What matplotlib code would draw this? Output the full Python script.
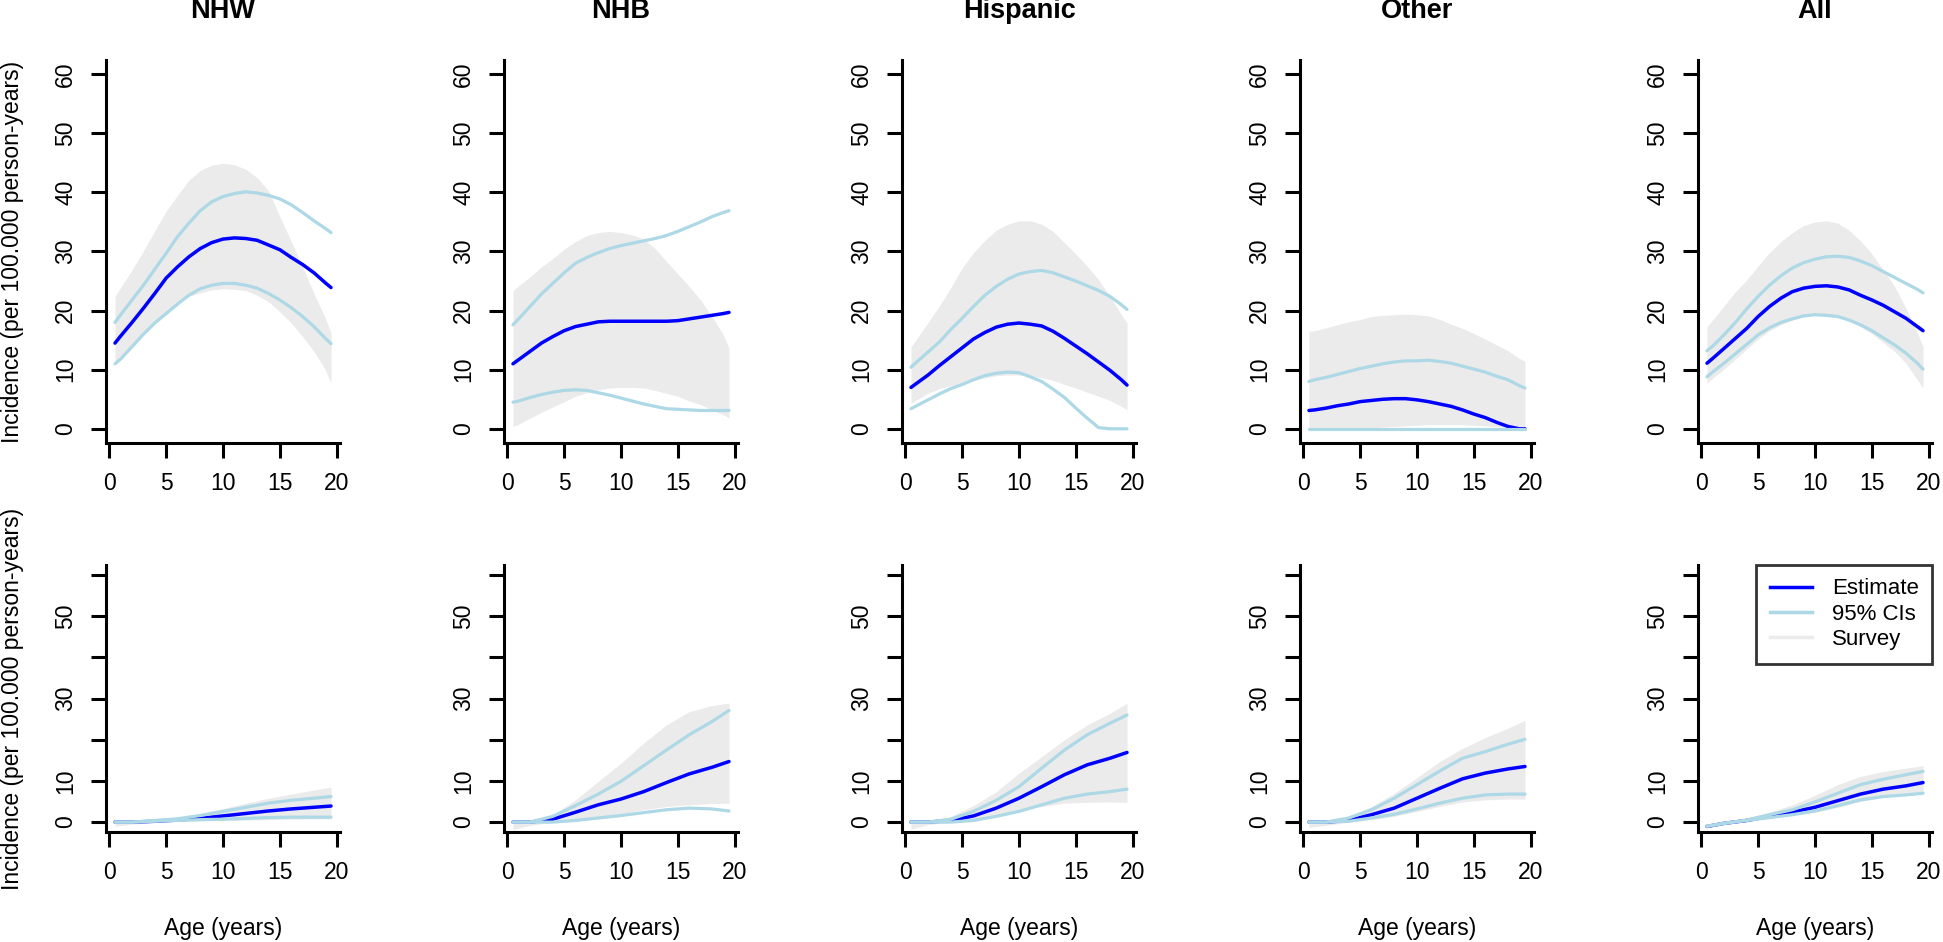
import matplotlib

matplotlib.use("Agg")
import matplotlib.pyplot as plt  # noqa: E402
from matplotlib.lines import Line2D  # noqa: E402

plt.rcParams["font.family"] = ["Liberation Sans", "DejaVu Sans"]

W, H = 1943, 942
DPI = 100
BLUE, LBLUE, GREY = "#0000FF", "#ADD8E6", "#EBEBEB"

GROUPS = ["NHW", "NHB", "Hispanic", "Other", "All"]
AGE_TOP = [0.5, 1, 2, 3, 4, 5, 6, 7, 8, 9, 10, 11, 12, 13, 14, 15, 16, 17, 18, 19, 19.5]
AGE_BOT = [0.5, 2, 4, 6, 8, 10, 12, 14, 16, 18, 19.5]

# top row: estimate, 95% CI low/high, survey band low/high
nhw_t_est = [14.5, 15.7, 18.0, 20.4, 22.9, 25.5, 27.4, 29.1, 30.5, 31.5, 32.1,
             32.3, 32.2, 31.9, 31.1, 30.3, 29.0, 27.8, 26.4, 24.7, 23.9]
nhw_t_lo = [11.0, 11.8, 13.9, 16.0, 17.9, 19.5, 21.1, 22.6, 23.7, 24.3, 24.6,
            24.6, 24.3, 23.8, 22.9, 21.8, 20.5, 19.0, 17.3, 15.3, 14.4]
nhw_t_hi = [18.0, 19.3, 21.8, 24.3, 27.0, 29.7, 32.5, 34.8, 36.9, 38.4, 39.3,
            39.8, 40.1, 39.9, 39.5, 38.9, 37.9, 36.6, 35.2, 33.9, 33.2]
nhw_t_slo = [10.8, 11.9, 14.2, 16.3, 18.1, 19.8, 21.2, 22.4, 23.0, 23.5, 23.7,
             23.6, 23.4, 22.6, 21.5, 19.8, 17.9, 15.6, 13.1, 10.0, 7.7]
nhw_t_shi = [22.4, 23.9, 26.9, 30.1, 33.5, 36.8, 39.5, 42.1, 43.7, 44.6, 44.9,
             44.7, 43.9, 42.5, 40.3, 35.9, 31.7, 27.4, 22.9, 18.7, 16.2]

nhb_t_est = [11.0, 11.7, 13.1, 14.5, 15.6, 16.6, 17.3, 17.7, 18.1, 18.2, 18.2,
             18.2, 18.2, 18.2, 18.2, 18.3, 18.6, 18.9, 19.2, 19.5, 19.7]
nhb_t_lo = [4.5, 4.7, 5.3, 5.8, 6.2, 6.5, 6.6, 6.5, 6.1, 5.7, 5.2,
            4.7, 4.2, 3.8, 3.4, 3.3, 3.2, 3.1, 3.1, 3.1, 3.1]
nhb_t_hi = [17.6, 18.6, 20.7, 22.8, 24.6, 26.4, 28.0, 29.0, 29.8, 30.5, 31.0,
            31.4, 31.8, 32.2, 32.7, 33.4, 34.2, 35.0, 35.9, 36.6, 36.9]
nhb_t_slo = [0.4, 0.8, 1.8, 2.8, 3.7, 4.6, 5.5, 6.1, 6.6, 6.9, 7.0,
             7.0, 6.9, 6.5, 6.0, 5.5, 4.7, 4.1, 3.2, 2.4, 1.8]
nhb_t_shi = [23.4, 24.2, 25.7, 27.4, 28.8, 30.4, 31.7, 32.7, 33.2, 33.4, 33.2,
             32.8, 32.1, 30.5, 28.3, 26.2, 24.1, 21.8, 19.0, 15.9, 13.6]

his_t_est = [7.0, 7.7, 9.1, 10.7, 12.2, 13.7, 15.2, 16.3, 17.2, 17.7, 17.9,
             17.7, 17.4, 16.5, 15.3, 14.0, 12.7, 11.3, 9.9, 8.3, 7.4]
his_t_lo = [3.4, 3.9, 4.9, 5.9, 6.8, 7.5, 8.3, 9.0, 9.4, 9.6, 9.5,
            8.8, 8.0, 6.7, 5.3, 3.5, 1.8, 0.2, 0.0, 0.0, 0.0]
his_t_hi = [10.4, 11.3, 13.0, 14.7, 16.8, 18.7, 20.7, 22.6, 24.1, 25.3, 26.2,
            26.6, 26.8, 26.4, 25.7, 25.0, 24.2, 23.4, 22.4, 21.0, 20.2]
his_t_slo = [4.3, 4.9, 6.0, 6.8, 7.3, 7.8, 8.3, 8.6, 9.0, 9.1, 9.1,
             9.0, 8.6, 8.2, 7.5, 6.9, 6.2, 5.5, 4.8, 3.8, 3.2]
his_t_shi = [13.9, 15.2, 18.0, 20.8, 23.9, 27.2, 29.8, 31.9, 33.6, 34.6, 35.2,
             35.2, 34.6, 33.4, 31.5, 29.6, 27.5, 25.2, 22.4, 19.3, 17.9]

oth_t_est = [3.1, 3.2, 3.5, 3.9, 4.2, 4.6, 4.8, 5.0, 5.1, 5.1, 4.9,
             4.6, 4.2, 3.8, 3.2, 2.5, 1.9, 1.1, 0.4, 0.0, 0.0]
oth_t_lo = [0, 0, 0, 0, 0, 0, 0, 0, 0, 0, 0, 0, 0, 0, 0, 0, 0, 0, 0, 0, 0]
oth_t_hi = [8.0, 8.3, 8.7, 9.2, 9.7, 10.2, 10.6, 11.0, 11.3, 11.5, 11.5,
            11.6, 11.4, 11.1, 10.6, 10.1, 9.6, 8.9, 8.3, 7.3, 6.9]
oth_t_slo = [0.0, 0.0, 0.0, 0.0, 0.0, 0.1, 0.2, 0.3, 0.4, 0.5, 0.6,
             0.7, 0.7, 0.7, 0.7, 0.6, 0.5, 0.4, 0.3, 0.2, 0.2]
oth_t_shi = [16.5, 16.6, 17.1, 17.6, 18.1, 18.5, 19.0, 19.2, 19.3, 19.4, 19.3,
             19.1, 18.5, 17.7, 17.0, 16.1, 15.2, 14.2, 13.2, 11.9, 11.4]

all_t_est = [11.1, 11.9, 13.6, 15.3, 17.0, 19.0, 20.7, 22.1, 23.2, 23.8, 24.1,
             24.2, 24.0, 23.5, 22.6, 21.8, 20.9, 19.8, 18.7, 17.3, 16.6]
all_t_lo = [8.8, 9.6, 11.1, 12.7, 14.3, 15.9, 17.1, 18.0, 18.6, 19.1, 19.3,
            19.2, 19.0, 18.4, 17.6, 16.6, 15.4, 14.2, 12.8, 11.1, 10.1]
all_t_hi = [13.2, 14.0, 15.9, 18.0, 20.3, 22.4, 24.3, 25.9, 27.2, 28.1, 28.7,
            29.1, 29.2, 29.0, 28.4, 27.6, 26.6, 25.6, 24.6, 23.6, 23.0]
all_t_slo = [7.7, 8.6, 10.1, 11.8, 13.5, 15.2, 16.6, 17.6, 18.4, 19.0, 19.2,
             19.2, 19.0, 18.3, 17.3, 16.1, 14.6, 13.1, 11.1, 8.3, 6.9]
all_t_shi = [17.3, 18.4, 20.8, 23.2, 25.2, 27.6, 29.8, 31.7, 33.2, 34.4, 35.0,
             35.2, 34.8, 33.6, 31.8, 29.6, 26.9, 24.1, 20.4, 16.2, 13.9]

# bottom row
nhw_b_est = [0, 0, 0.2, 0.5, 0.9, 1.5, 2.1, 2.7, 3.2, 3.6, 3.9]
nhw_b_lo = [0, 0, 0.2, 0.4, 0.6, 0.7, 0.9, 1.1, 1.2, 1.2, 1.2]
nhw_b_hi = [0, 0, 0.4, 0.8, 1.6, 2.6, 3.6, 4.6, 5.3, 5.8, 6.2]
nhw_b_slo = [-1.0, -0.5, 0, 0.2, 0.3, 0.4, 0.5, 0.6, 0.7, 0.8, 0.8]
nhw_b_shi = [0.1, 0.1, 0.6, 1.2, 2.1, 3.3, 4.6, 5.8, 6.8, 7.8, 8.5]

nhb_b_est = [0, 0, 0.7, 2.4, 4.2, 5.6, 7.4, 9.6, 11.7, 13.3, 14.7]
nhb_b_lo = [0, 0, 0, 0.4, 1.0, 1.6, 2.3, 3.0, 3.4, 3.2, 2.7]
nhb_b_hi = [0, 0, 1.4, 4.0, 6.8, 9.9, 13.7, 17.5, 21.2, 24.4, 27.1]
nhb_b_slo = [-1.8, -0.8, 0, 0.3, 1.0, 2.0, 3.0, 3.8, 4.2, 4.5, 4.6]
nhb_b_shi = [0.2, 0.1, 1.8, 5.4, 9.9, 14.3, 19.2, 23.6, 26.8, 28.3, 28.9]

his_b_est = [0, 0, 0.4, 1.5, 3.4, 5.8, 8.6, 11.5, 13.9, 15.5, 16.9]
his_b_lo = [0, 0, 0, 0.4, 1.4, 2.6, 4.2, 5.8, 6.8, 7.4, 8.0]
his_b_hi = [0, 0, 0.7, 2.6, 5.3, 8.6, 13.1, 17.5, 21.2, 24.0, 26.0]
his_b_slo = [-1.7, -0.6, 0, 0.6, 1.5, 3.0, 3.8, 4.6, 4.8, 4.9, 4.8]
his_b_shi = [0.1, 0.1, 1.4, 4.0, 7.4, 11.9, 15.9, 20.0, 23.6, 26.4, 28.9]

oth_b_est = [0, 0, 0.4, 1.8, 3.4, 5.8, 8.2, 10.5, 11.9, 12.9, 13.5]
oth_b_lo = [0, 0, 0.2, 1.0, 1.9, 3.2, 4.6, 5.8, 6.6, 6.8, 6.8]
oth_b_hi = [0, 0, 1.0, 3.0, 5.8, 9.1, 12.4, 15.5, 17.1, 18.9, 20.1]
oth_b_slo = [-1.3, -0.8, 0, 0.6, 1.4, 2.6, 3.8, 4.9, 5.4, 5.6, 5.6]
oth_b_shi = [0.1, 0.1, 1.4, 3.8, 7.0, 10.8, 14.7, 17.9, 20.5, 22.8, 24.7]

all_b_est = [-1.05, -0.3, 0.4, 1.4, 2.4, 3.6, 5.2, 6.8, 8.0, 8.8, 9.6]
all_b_lo = [-1.0, -0.3, 0.4, 1.1, 1.8, 2.7, 4.0, 5.4, 6.2, 6.6, 7.0]
all_b_hi = [-1.0, -0.3, 0.5, 1.8, 3.0, 4.9, 7.0, 9.1, 10.4, 11.5, 12.3]
all_b_slo = [-1.4, -0.6, 0.2, 1.0, 1.6, 2.4, 3.6, 5.0, 6.0, 6.5, 6.8]
all_b_shi = [-0.8, 0.0, 1.0, 2.4, 4.2, 6.5, 9.1, 11.1, 12.3, 13.1, 13.7]

ROWS = [
    [(nhw_t_est, nhw_t_lo, nhw_t_hi, nhw_t_slo, nhw_t_shi),
     (nhb_t_est, nhb_t_lo, nhb_t_hi, nhb_t_slo, nhb_t_shi),
     (his_t_est, his_t_lo, his_t_hi, his_t_slo, his_t_shi),
     (oth_t_est, oth_t_lo, oth_t_hi, oth_t_slo, oth_t_shi),
     (all_t_est, all_t_lo, all_t_hi, all_t_slo, all_t_shi)],
    [(nhw_b_est, nhw_b_lo, nhw_b_hi, nhw_b_slo, nhw_b_shi),
     (nhb_b_est, nhb_b_lo, nhb_b_hi, nhb_b_slo, nhb_b_shi),
     (his_b_est, his_b_lo, his_b_hi, his_b_slo, his_b_shi),
     (oth_b_est, oth_b_lo, oth_b_hi, oth_b_slo, oth_b_shi),
     (all_b_est, all_b_lo, all_b_hi, all_b_slo, all_b_shi)],
]
AGES = [AGE_TOP, AGE_BOT]

YTICKS = [0, 10, 20, 30, 40, 50, 60]
YLABELS = [["0", "10", "20", "30", "40", "50", "60"],
           ["0", "10", "", "30", "", "50", ""]]

# layout in pixels
COL_X = [106, 504, 902, 1300, 1698]
AX_W = 234
ROW_Y = [(60, 443), (565, 832)]  # top, bottom pixel rows of each axes row
FS = 16.5


def panel(fig, r, c):
    top, bot = ROW_Y[r]
    ax = fig.add_axes([COL_X[c] / W, 1 - bot / H, AX_W / W, (bot - top) / H])
    age = AGES[r]
    est, lo, hi, slo, shi = ROWS[r][c]
    ax.fill_between(age, slo, shi, color=GREY, lw=0)
    ax.plot(age, est, color=BLUE, lw=2.5, solid_capstyle="round",
            solid_joinstyle="round")
    for ci in (lo, hi):
        ax.plot(age, ci, color=LBLUE, lw=2.3, solid_capstyle="round",
                solid_joinstyle="round")
    ax.set_xlim(-0.29, 20.29)
    ax.set_ylim(-2.4, 62.4)
    for s in ("top", "right"):
        ax.spines[s].set_visible(False)
    for s in ("left", "bottom"):
        ax.spines[s].set_linewidth(2.2)
    ax.set_xticks([0, 5, 10, 15, 20])
    ax.set_yticks(YTICKS)
    ax.set_yticklabels(YLABELS[r], rotation=90, va="center")
    ax.tick_params(axis="both", direction="out", length=10.8, width=2.2,
                   labelsize=FS, pad=10)
    return ax


def main():
    fig = plt.figure(figsize=(W / DPI, H / DPI), dpi=DPI)
    for r in range(2):
        for c in range(5):
            ax = panel(fig, r, c)
            cx = (COL_X[c] + AX_W / 2) / W
            if r == 0:
                fig.text(cx, 1 - 11 / H, GROUPS[c], ha="center", va="center",
                         fontsize=19.5, fontweight="bold")
            else:
                fig.text(cx, 1 - 928 / H, "Age (years)", ha="center",
                         va="center", fontsize=FS)
            if r == 1 and c == 4:
                handles = [Line2D([], [], color=BLUE, lw=2.5),
                           Line2D([], [], color=LBLUE, lw=2.5),
                           Line2D([], [], color=GREY, lw=2.5)]
                leg = ax.legend(handles, ["Estimate", "95% CIs", "Survey"],
                                loc="upper right", bbox_to_anchor=(1, 1),
                                borderaxespad=0, fancybox=False, fontsize=16,
                                handlelength=1.9, handletextpad=0.9,
                                labelspacing=0.2, borderpad=0.6)
                leg.get_frame().set_edgecolor("black")
                leg.get_frame().set_linewidth(2.0)
        top, bot = ROW_Y[r]
        fig.text(12.5 / W, 1 - (top + bot) / 2 / H,
                 "Incidence (per 100.000 person-years)", rotation=90,
                 ha="center", va="center", fontsize=FS)
    fig.savefig("out.png", dpi=DPI)
    plt.close(fig)


if __name__ == "__main__":
    main()
